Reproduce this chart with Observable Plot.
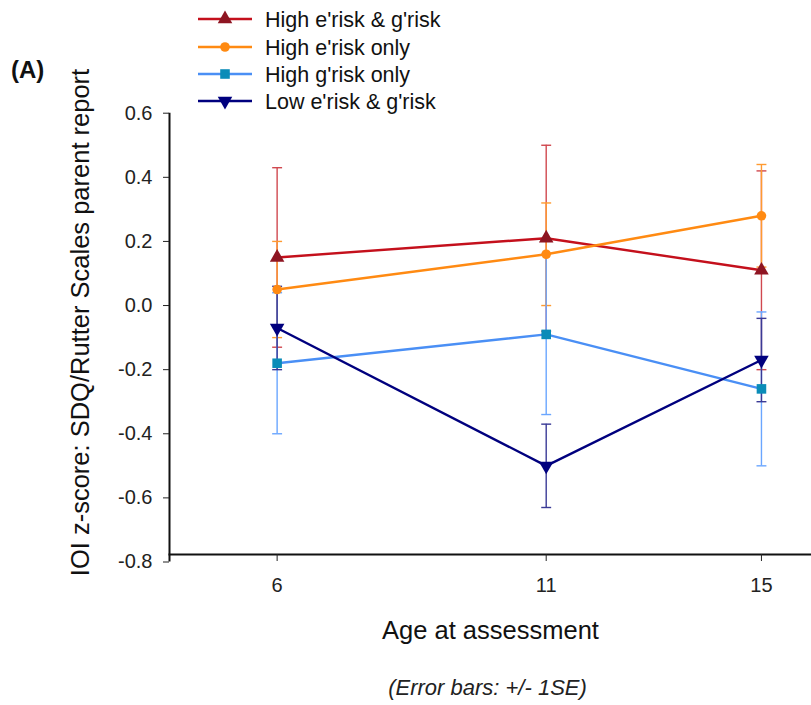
<!DOCTYPE html>
<html>
<head>
<meta charset="utf-8">
<script src="https://cdn.jsdelivr.net/npm/d3@7"></script>
<script src="https://cdn.jsdelivr.net/npm/@observablehq/plot@0.6"></script>
<style>
  html, body { margin: 0; padding: 0; background: #fff; }
  #wrap { position: relative; width: 811px; height: 705px; font-family: "Liberation Sans", Arial, sans-serif; }
  #legend { position: absolute; left: 0; top: 0; }
  #tag { position: absolute; left: 11px; top: 56px; font-size: 24px; line-height: 28px; font-weight: bold; color: #111; }
</style>
</head>
<body>
<div id="wrap"><div id="chart"></div><svg id="legend" width="811" height="118"></svg><div id="tag">(A)</div></div>
<script>
const ages = [6, 11, 15];
const groups = ["High e'risk & g'risk", "High e'risk only", "High g'risk only", "Low e'risk & g'risk"];
const highBoth = [0.15, 0.21, 0.11];
const seHighBoth = [0.28, 0.29, 0.31];
const highEOnly = [0.05, 0.16, 0.28];
const seHighEOnly = [0.15, 0.16, 0.16];
const highGOnly = [-0.18, -0.09, -0.26];
const seHighGOnly = [0.22, 0.25, 0.24];
const lowBoth = [-0.07, -0.50, -0.17];
const seLowBoth = [0.13, 0.13, 0.13];
const yTicks = [-0.8, -0.6, -0.4, -0.2, 0.0, 0.2, 0.4, 0.6];

const seriesValues = [highBoth, highEOnly, highGOnly, lowBoth];
const seriesSE = [seHighBoth, seHighEOnly, seHighGOnly, seLowBoth];
const lineColors = ["#c4101c", "#ff8a12", "#4a8ff5", "#00007e"];
const barColors = ["#d0484f", "#ff9a30", "#6aa6ff", "#3a3a96"];
const markColors = ["#8e1522", "#ff8a12", "#0a8cb8", "#00007e"];
const symbols = ["triangle", "circle", "square", "triangle"];
const rotations = [0, 0, 0, 180];
const radii = [5.4, 4.8, 5.4, 5.4];

const rows = [];
groups.forEach((g, i) => ages.forEach((a, j) => rows.push({
  group: g, gi: i, age: a, value: seriesValues[i][j],
  lo: seriesValues[i][j] - seriesSE[i][j], hi: seriesValues[i][j] + seriesSE[i][j]
})));

const capSymbol = {
  draw(context, size) {
    const w = Math.sqrt(size) / 2;
    context.moveTo(-w, 0);
    context.lineTo(w, 0);
  }
};

const xDomain = [4, 15.93];
const yDomain = [-0.8, 0.6];

const marks = [];
groups.forEach((g, i) => {
  const d = rows.filter(r => r.gi === i);
  marks.push(Plot.ruleX(d, {x: "age", y1: "lo", y2: "hi", stroke: barColors[i], strokeWidth: 1.4}));
  marks.push(Plot.dot(d, {x: "age", y: "lo", symbol: capSymbol, r: 5.6, stroke: barColors[i], strokeWidth: 1.4, fill: "none"}));
  marks.push(Plot.dot(d, {x: "age", y: "hi", symbol: capSymbol, r: 5.6, stroke: barColors[i], strokeWidth: 1.4, fill: "none"}));
});
groups.forEach((g, i) => {
  const d = rows.filter(r => r.gi === i);
  marks.push(Plot.line(d, {x: "age", y: "value", stroke: lineColors[i], strokeWidth: 2.4}));
});
groups.forEach((g, i) => {
  const d = rows.filter(r => r.gi === i);
  marks.push(Plot.dot(d, {x: "age", y: "value", symbol: symbols[i], rotate: rotations[i], r: radii[i], fill: markColors[i], stroke: "none"}));
});

const chart = Plot.plot({
  width: 811,
  height: 705,
  marginLeft: 169,
  marginRight: 0,
  marginTop: 113,
  marginBottom: 151,
  style: {fontFamily: "Liberation Sans, Arial, sans-serif", fontSize: "20px", background: "#fff", overflow: "visible", color: "#222"},
  x: {domain: xDomain, range: [169, 811]},
  y: {domain: yDomain, range: [561.5, 112.7]},
  marks: [
    Plot.ruleX([xDomain[0]], {y1: yDomain[0], y2: yDomain[1], stroke: "#111", strokeWidth: 2}),
    Plot.frame({anchor: "bottom", stroke: "#111", strokeWidth: 2}),
    Plot.axisY({ticks: yTicks, tickFormat: d => d.toFixed(1), tickSize: 6, tickPadding: 11, label: null}),
    Plot.axisX({ticks: ages, tickFormat: d => String(d), tickSize: 7, tickPadding: 16, label: null}),
    Plot.text(["IOI z-score: SDQ/Rutter Scales parent report"], {frameAnchor: "left", textAnchor: "middle", dx: -89, dy: -11.5, rotate: -90, fontSize: 25.5, fill: "#111"}),
    Plot.text(["Age at assessment"], {frameAnchor: "bottom", dy: 84, fontSize: 25.5, fill: "#111"}),
    Plot.text(["(Error bars: +/- 1SE)"], {frameAnchor: "bottom", dy: 140, dx: -3, fontSize: 22, fontStyle: "italic", fill: "#222"}),
    ...marks
  ]
});
document.getElementById("chart").appendChild(chart);

// legend
const leg = d3.select("#legend");
const legY = [19, 47, 74, 101];
groups.forEach((g, i) => {
  const y = legY[i];
  leg.append("line").attr("x1", 198).attr("x2", 252).attr("y1", y).attr("y2", y)
    .attr("stroke", lineColors[i]).attr("stroke-width", 2.4);
  const sym = symbols[i] === "circle" ? d3.symbolCircle : symbols[i] === "square" ? d3.symbolSquare : d3.symbolTriangle;
  const size = Math.PI * radii[i] * radii[i];
  leg.append("path").attr("d", d3.symbol(sym, size)())
    .attr("transform", `translate(225,${y}) rotate(${rotations[i]})`)
    .attr("fill", markColors[i]);
  leg.append("text").attr("x", 265).attr("y", y).attr("dy", "0.35em")
    .attr("font-size", 21.5).attr("fill", "#111")
    .attr("font-family", "Liberation Sans, Arial, sans-serif").text(g);
});
</script>
</body>
</html>
